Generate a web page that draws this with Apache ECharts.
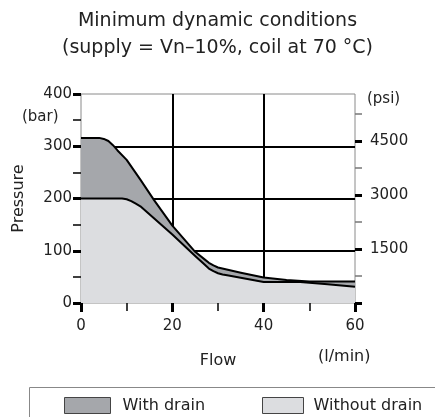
<!DOCTYPE html>
<html>
<head>
<meta charset="utf-8">
<script src="https://cdn.jsdelivr.net/npm/echarts@6/dist/echarts.min.js"></script>
<style>html,body{margin:0;padding:0;background:#fff;}#c{width:435px;height:417px;}</style>
</head>
<body>
<div id="c"></div>
<script>
// Data
const flowWithDrain     = [0, 4, 5, 6, 7, 8, 10, 13, 16, 20, 25, 27, 28, 29, 30, 35, 40, 45, 50, 60];
const pressureWithDrain = [316, 316, 314, 310, 302, 292, 274, 236, 197, 148, 98, 84, 77, 72, 68, 58, 49, 44, 41, 41];
const flowNoDrain       = [0, 9, 10, 11, 12, 13, 20, 25, 27, 28, 29, 30, 31, 32, 40, 48, 54, 60];
const pressureNoDrain   = [200, 200, 198.5, 195, 190, 185, 131, 90, 74, 66, 61, 57, 54.5, 53, 40, 40, 36, 31];
const seriesNames = ['With drain', 'Without drain'];
const psiMajorTicks = [0, 1500, 3000, 4500];
const psiLabels = [1500, 3000, 4500];
const psiMinorTicks = [750, 2250, 3750, 5250];
const BAR_TO_PSI = 14.5038;

const FONT = 'DejaVu Sans';
const TXT = '#222';
const pairs = (xs, ys) => xs.map((x, i) => [x, ys[i]]);

const chart = echarts.init(document.getElementById('c'), null, {renderer: 'canvas'});
chart.setOption({
  animation: false,
  backgroundColor: '#fff',
  textStyle: {fontFamily: FONT, color: TXT},
  title: {
    text: 'Minimum dynamic conditions\n(supply = Vn–10%, coil at 70 °C)',
    left: 'center', top: 3,
    textStyle: {fontFamily: FONT, fontSize: 19, fontWeight: 'normal', color: TXT, lineHeight: 27}
  },
  grid: {left: 81, right: 80, top: 94, bottom: 114, show: true, borderColor: '#8a8a8a', borderWidth: 1, backgroundColor: 'transparent'},
  xAxis: {
    type: 'value', min: 0, max: 60, interval: 20,
    name: 'Flow', nameLocation: 'middle', nameGap: 50,
    nameTextStyle: {fontFamily: FONT, fontSize: 16, color: TXT},
    axisLine: {show: false},
    axisTick: {show: true, length: 9, lineStyle: {color: '#000', width: 3}},
    minorTick: {show: true, splitNumber: 2, length: 8, lineStyle: {color: '#000', width: 1.5}},
    axisLabel: {fontFamily: FONT, fontSize: 15, color: TXT, margin: 16},
    splitLine: {show: true, showMinLine: false, showMaxLine: false, lineStyle: {color: '#000', width: 2}}
  },
  yAxis: [
    {
      type: 'value', min: 0, max: 400, interval: 100, position: 'left',
      name: 'Pressure', nameLocation: 'middle', nameGap: 54, nameRotate: 90,
      nameTextStyle: {fontFamily: FONT, fontSize: 16, color: TXT},
      axisLine: {show: false},
      axisTick: {show: true, length: 8, lineStyle: {color: '#000', width: 3}},
      minorTick: {show: true, splitNumber: 2, length: 8, lineStyle: {color: '#000', width: 1.5}},
      axisLabel: {fontFamily: FONT, fontSize: 15, color: TXT, margin: 9},
      splitLine: {show: true, showMinLine: false, showMaxLine: false, lineStyle: {color: '#000', width: 2}}
    },
    {
      type: 'value', min: 0, max: 400 * BAR_TO_PSI, interval: 1500, position: 'right',
      axisLine: {show: false},
      axisTick: {show: true, length: 7, customValues: psiMajorTicks, lineStyle: {color: '#000', width: 3}},
      axisLabel: {fontFamily: FONT, fontSize: 15, color: TXT, margin: 15, customValues: psiLabels,
                  formatter: v => String(v)},
      splitLine: {show: false}
    },
    {
      type: 'value', min: 0, max: 400 * BAR_TO_PSI, interval: 750, position: 'right',
      axisLine: {show: false},
      axisTick: {show: true, length: 7, customValues: psiMinorTicks, lineStyle: {color: '#777', width: 1.5}},
      axisLabel: {show: false},
      splitLine: {show: false}
    }
  ],
  legend: [
    {
      left: 59, top: 392, itemWidth: 46, itemHeight: 16, itemGap: 10,
      textStyle: {fontFamily: FONT, fontSize: 16, color: TXT, padding: [0, 0, 0, 7]},
      data: [{name: seriesNames[0], icon: 'rect', itemStyle: {color: '#a5a7ab', borderColor: '#444', borderWidth: 1}}]
    },
    {
      left: 257, top: 392, itemWidth: 41, itemHeight: 16, itemGap: 10,
      textStyle: {fontFamily: FONT, fontSize: 16, color: TXT, padding: [0, 0, 0, 5]},
      data: [{name: seriesNames[1], icon: 'rect', itemStyle: {color: '#dcdde0', borderColor: '#444', borderWidth: 1}}]
    }
  ],
  graphic: [
    {type: 'rect', left: 27, top: 385, shape: {width: 430, height: 40}, style: {fill: 'none', stroke: '#888', lineWidth: 1}, silent: true},
    {type: 'text', left: 22, top: 110, style: {text: '(bar)', font: '15px "DejaVu Sans"', fill: TXT}},
    {type: 'text', left: 367, top: 92, style: {text: '(psi)', font: '15px "DejaVu Sans"', fill: TXT}},
    {type: 'text', left: 318, top: 349, style: {text: '(l/min)', font: '16px "DejaVu Sans"', fill: TXT}}
  ],
  series: [
    {
      name: seriesNames[0], type: 'line', yAxisIndex: 0,
      data: pairs(flowWithDrain, pressureWithDrain),
      smooth: false, showSymbol: false, symbol: 'none',
      lineStyle: {color: '#000', width: 2, join: 'round'},
      itemStyle: {color: '#a5a7ab'},
      areaStyle: {color: '#a5a7ab', opacity: 1},
      z: 2
    },
    {
      name: seriesNames[1], type: 'line', yAxisIndex: 0,
      data: pairs(flowNoDrain, pressureNoDrain),
      smooth: false, showSymbol: false, symbol: 'none',
      lineStyle: {color: '#000', width: 2, join: 'round'},
      itemStyle: {color: '#dcdde0'},
      areaStyle: {color: '#dcdde0', opacity: 1},
      z: 3
    }
  ]
});
</script>
</body>
</html>
